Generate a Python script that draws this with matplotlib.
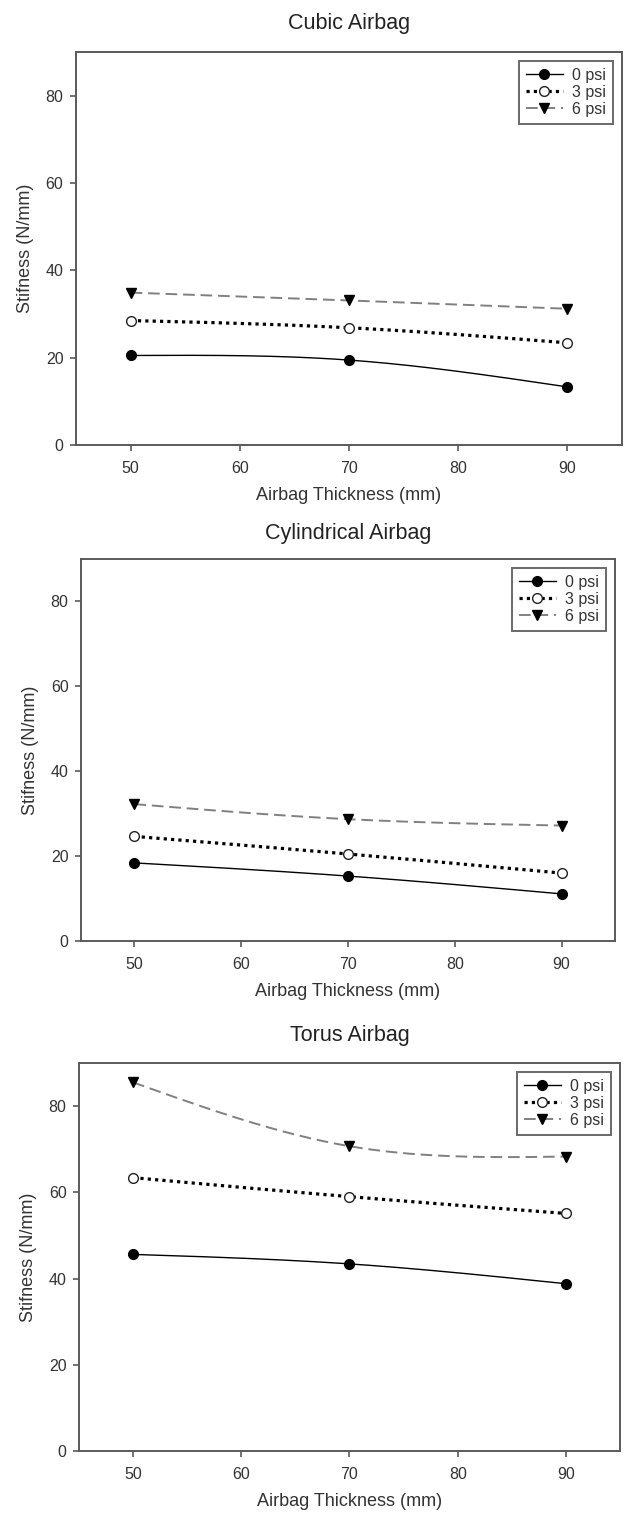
import numpy as np
import matplotlib
matplotlib.use("Agg")
import matplotlib.pyplot as plt

plt.rcParams['font.family'] = ['Liberation Sans', 'DejaVu Sans']

# ---- data ----
thickness = [50, 70, 90]
series_labels = ["0 psi", "3 psi", "6 psi"]

titles = ["Cubic Airbag", "Cylindrical Airbag", "Torus Airbag"]

cubic_0psi = [20.5, 19.45, 13.3]
cubic_3psi = [28.5, 26.85, 23.4]
cubic_6psi = [34.9, 33.1, 31.2]

cyl_0psi = [18.4, 15.3, 11.1]
cyl_3psi = [24.65, 20.5, 16.0]
cyl_6psi = [32.25, 28.7, 27.2]

torus_0psi = [45.6, 43.4, 38.8]
torus_3psi = [63.4, 59.0, 55.1]
torus_6psi = [85.5, 70.7, 68.3]

xticks = [50, 60, 70, 80, 90]
yticks = [0, 20, 40, 60, 80]
xlabel = "Airbag Thickness (mm)"
ylabel = "Stifness (N/mm)"

panels = [
    (cubic_0psi, cubic_3psi, cubic_6psi),
    (cyl_0psi, cyl_3psi, cyl_6psi),
    (torus_0psi, torus_3psi, torus_6psi),
]


def natural_spline(x, y, n=200):
    x = np.asarray(x, float)
    y = np.asarray(y, float)
    k = len(x)
    h = np.diff(x)
    A = np.zeros((k, k))
    b = np.zeros(k)
    A[0, 0] = 1
    A[-1, -1] = 1
    for i in range(1, k - 1):
        A[i, i - 1] = h[i - 1] / 6
        A[i, i] = (h[i - 1] + h[i]) / 3
        A[i, i + 1] = h[i] / 6
        b[i] = (y[i + 1] - y[i]) / h[i] - (y[i] - y[i - 1]) / h[i - 1]
    M = np.linalg.solve(A, b)
    xs = np.linspace(x[0], x[-1], n)
    idx = np.clip(np.searchsorted(x, xs) - 1, 0, k - 2)
    x0, x1 = x[idx], x[idx + 1]
    hh = x1 - x0
    ys = (M[idx] * (x1 - xs) ** 3 / (6 * hh) + M[idx + 1] * (xs - x0) ** 3 / (6 * hh)
          + (y[idx] / hh - M[idx] * hh / 6) * (x1 - xs)
          + (y[idx + 1] / hh - M[idx + 1] * hh / 6) * (xs - x0))
    return xs, ys


W, H = 625, 1517
fig = plt.figure(figsize=(W / 100, H / 100), dpi=100)

# axes boxes in pixels: left, right, top, bottom
boxes = [(76, 622, 52, 445), (81, 615, 559, 941), (79, 620, 1063, 1451)]
title_y = [23, 533, 1035]

spine_col = "#5a5a5a"
text_col = "#333333"

styles = [
    dict(line=dict(color="black", lw=1.0, ls="-"),
         marker=dict(marker="o", ms=7, mfc="black", mec="black")),
    dict(line=dict(color="black", lw=2.3, ls=(0, (1, 1.3))),
         marker=dict(marker="o", ms=7, mfc="white", mec="#222222", mew=1.0)),
    dict(line=dict(color="#808080", lw=1.4, ls=(0, (6, 3))),
         marker=dict(marker="v", ms=7.5, mfc="black", mec="black")),
]

for p, (vals, (l, r, t, b)) in enumerate(zip(panels, boxes)):
    ax = fig.add_axes([l / W, 1 - b / H, (r - l) / W, (b - t) / H])
    for s, (yv, st, lab) in enumerate(zip(vals, styles, series_labels)):
        xs, ys = natural_spline(thickness, yv)
        ax.plot(xs, ys, **st["line"], zorder=2)
        ax.plot(thickness, yv, ls="none", **st["marker"], zorder=3)
        # legend proxy
        ax.plot([], [], **st["line"], **st["marker"], label=lab)
    ax.set_xlim(45, 95)
    ax.set_ylim(0, 90)
    ax.set_xticks(xticks)
    ax.set_yticks(yticks)
    for sp in ax.spines.values():
        sp.set_color(spine_col)
        sp.set_linewidth(1.4)
    ax.tick_params(axis="both", direction="out", length=4, width=1.2,
                   color=spine_col, labelsize=11.5, labelcolor=text_col, pad=5)
    ax.tick_params(axis="x", pad=7.5)
    ax.tick_params(top=False, right=False)
    ax.set_xlabel(xlabel, fontsize=13, color=text_col)
    ax.set_ylabel(ylabel, fontsize=13, color=text_col)
    ax.xaxis.set_label_coords(0.5, -42 / (b - t))
    ax.yaxis.set_label_coords(-42 / (r - l), 0.5)
    leg = ax.legend(loc="upper right", fontsize=11.5, frameon=True, fancybox=False,
                    handlelength=2.3, handletextpad=0.6, labelspacing=0.12,
                    borderpad=0.45, borderaxespad=0.55, numpoints=1)
    leg.get_frame().set_edgecolor("#444444")
    leg.get_frame().set_linewidth(1.4)
    for txt in leg.get_texts():
        txt.set_color(text_col)
    fig.text(0.5 * (l + r) / W, 1 - title_y[p] / H, titles[p], fontsize=15.5,
             ha="center", va="center", color="#222222")

fig.savefig("out.png", dpi=100)
